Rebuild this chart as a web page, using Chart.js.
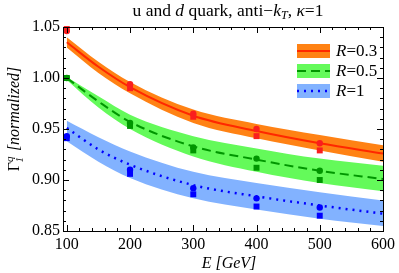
<!DOCTYPE html>
<html>
<head>
<meta charset="utf-8">
<script src="https://cdn.jsdelivr.net/npm/chart.js@4"></script>
<style>
  html, body { margin: 0; padding: 0; background: #fff; }
  #wrap { width: 399px; height: 273px; }
</style>
</head>
<body>
<div id="wrap"><canvas id="chart" width="399" height="273"></canvas></div>
<script>
// curves
const energies = [100, 150, 200, 300, 400, 500, 600];
const r03Mid  = [1.035, 1.011, 0.991, 0.963, 0.948, 0.936, 0.926];
const r03Low  = [1.030, 1.005, 0.985, 0.956, 0.941, 0.929, 0.918];
const r03High = [1.040, 1.016, 0.996, 0.969, 0.955, 0.944, 0.934];
const r05Mid  = [1.000, 0.977, 0.957, 0.933, 0.920, 0.909, 0.901];
const r05Low  = [0.998, 0.971, 0.950, 0.923, 0.908, 0.897, 0.889];
const r05High = [1.001, 0.982, 0.964, 0.943, 0.931, 0.921, 0.914];
const r1Mid   = [0.951, 0.930, 0.915, 0.895, 0.884, 0.875, 0.867];
const r1Low   = [0.938, 0.918, 0.902, 0.882, 0.871, 0.862, 0.855];
const r1High  = [0.958, 0.942, 0.928, 0.908, 0.897, 0.888, 0.880];

// points
const pointEnergies = [100, 200, 300, 400, 500];
const r03Circles = [1.046, 0.994, 0.965, 0.950, 0.936];
const r03Squares = [1.048, 0.990, 0.962, 0.943, 0.929];
const r05Circles = [1.000, 0.956, 0.932, 0.921, 0.909];
const r05Squares = [1.000, 0.953, 0.929, 0.912, 0.900];
const r1Circles  = [0.943, 0.910, 0.892, 0.882, 0.873];
const r1Squares  = [0.941, 0.906, 0.886, 0.874, 0.865];

const xTicks = [100, 200, 300, 400, 500, 600];
const yTicks = [0.85, 0.90, 0.95, 1.00, 1.05];
const legendLabels = ["0.3", "0.5", "1"];

const SERIF = "'Liberation Serif', 'DejaVu Serif', serif";
Chart.defaults.font.family = SERIF;
Chart.defaults.font.size = 16;
Chart.defaults.color = "#000";

const pts = (xs, ys) => xs.map((x, i) => ({ x: x, y: ys[i] }));

// bands go under everything (higher order = drawn first)
function band(low, high, color) {
    return [
        { data: pts(energies, low), order: 3, borderWidth: 0, pointRadius: 0, fill: false, cubicInterpolationMode: "monotone" },
        { data: pts(energies, high), order: 3, borderWidth: 0, pointRadius: 0, fill: "-1", backgroundColor: color, cubicInterpolationMode: "monotone" }
    ];
}

function curve(mid, color, dash, width) {
    return { data: pts(energies, mid), order: 2, borderColor: color, borderWidth: width, borderDash: dash,
             borderCapStyle: "butt", pointRadius: 0, fill: false, cubicInterpolationMode: "monotone" };
}

function marks(ys, color, style, r) {
    return { data: pts(pointEnergies, ys), order: 1, showLine: false, pointStyle: style, pointRadius: r,
             pointBackgroundColor: color, pointBorderColor: color, pointBorderWidth: 0, clip: 6 };
}

const series = [
    { fill: "rgb(255,130,20)", line: "rgb(255,40,0)", dash: [], width: 2, pts: "rgb(250,30,30)" },
    { fill: "rgb(100,250,90)", line: "rgb(0,150,0)", dash: [9, 5], width: 2, pts: "rgb(0,150,0)" },
    { fill: "rgb(130,178,255)", line: "rgb(0,0,255)", dash: [2, 5], width: 2.5, pts: "rgb(0,0,255)" }
];

// runs of text with their own fonts
function richText(ctx, runs, cx, cy, rotate) {
    ctx.save();
    ctx.translate(cx, cy);
    if (rotate) ctx.rotate(-Math.PI / 2);
    let total = 0;
    runs.forEach(r => { ctx.font = r.font; r.w = ctx.measureText(r.t).width; total += r.w + (r.gap || 0); });
    let x = -total / 2;
    ctx.textBaseline = "alphabetic";
    ctx.textAlign = "left";
    ctx.fillStyle = "#000";
    runs.forEach(r => { ctx.font = r.font; ctx.fillText(r.t, x + (r.dx || 0), r.dy || 0); x += r.w + (r.gap || 0); });
    ctx.restore();
}

const framePlugin = {
    id: "frame",
    afterDraw(chart) {
        const ctx = chart.ctx, a = chart.chartArea;
        const xs = chart.scales.x, ys = chart.scales.y;
        ctx.save();
        ctx.strokeStyle = "#000";
        ctx.lineWidth = 1;
        ctx.strokeRect(Math.round(a.left) + 0.5, Math.round(a.top) + 0.5, Math.round(a.right - a.left), Math.round(a.bottom - a.top));
        ctx.beginPath();
        for (let v = 100; v <= 600; v += 20) {
            const p = Math.round(xs.getPixelForValue(v)) + 0.5;
            const len = v % 100 === 0 ? 6 : 3;
            ctx.moveTo(p, a.bottom); ctx.lineTo(p, a.bottom - len);
            ctx.moveTo(p, a.top); ctx.lineTo(p, a.top + len);
        }
        for (let k = 85; k <= 105; k += 1) {
            const p = Math.round(ys.getPixelForValue(k / 100)) + 0.5;
            const len = k % 5 === 0 ? 6 : 3;
            ctx.moveTo(a.left, p); ctx.lineTo(a.left + len, p);
            ctx.moveTo(a.right, p); ctx.lineTo(a.right - len, p);
        }
        ctx.stroke();

        // legend
        const rows = [51, 71, 91];
        rows.forEach((yc, i) => {
            const s = series[i];
            ctx.fillStyle = s.fill;
            ctx.fillRect(297, yc - 7, 33, 14);
            ctx.strokeStyle = s.line;
            ctx.lineWidth = s.width;
            ctx.setLineDash(s.dash);
            ctx.beginPath();
            ctx.moveTo(297, yc); ctx.lineTo(330, yc);
            ctx.stroke();
            ctx.setLineDash([]);
            ctx.fillStyle = "#000";
            ctx.textBaseline = "middle";
            ctx.font = "italic 17px " + SERIF;
            ctx.fillText("R", 336, yc + 1);
            const w = ctx.measureText("R").width;
            ctx.font = "17px " + SERIF;
            ctx.fillText("=" + legendLabels[i], 336 + w, yc + 1);
        });
        ctx.restore();

        // title
        const N = "17.5px " + SERIF, I = "italic 17.5px " + SERIF, S = "italic 12px " + SERIF;
        richText(ctx, [
            { t: "u and ", font: N }, { t: "d", font: I }, { t: " quark, anti\u2212", font: N },
            { t: "k", font: I }, { t: "T", font: S, dy: 3 }, { t: ", ", font: N },
            { t: "\u03BA", font: I }, { t: "=1", font: N }
        ], 228, 16, false);
        // axis titles
        const N2 = "16px " + SERIF, I2 = "italic 16px " + SERIF, S2 = "italic 11px " + SERIF;
        richText(ctx, [{ t: "E [GeV]", font: I2 }], 229, 268, false);
        richText(ctx, [
            { t: "\u0393", font: N2 }, { t: "q", font: S2, dy: -6 },
            { t: "1", font: S2, dy: 4, dx: -6, gap: -4 }, { t: " [normalized]", font: I2 }
        ], 19, 119, true);
    }
};

const datasets = [];
datasets.push(...band(r03Low, r03High, series[0].fill));
datasets.push(...band(r05Low, r05High, series[1].fill));
datasets.push(...band(r1Low, r1High, series[2].fill));
datasets.push(curve(r03Mid, series[0].line, series[0].dash, series[0].width));
datasets.push(curve(r05Mid, series[1].line, series[1].dash, series[1].width));
datasets.push(curve(r1Mid, series[2].line, series[2].dash, series[2].width));
datasets.push(marks(r03Squares, series[0].pts, "rect", 4.2));
datasets.push(marks(r03Circles, series[0].pts, "circle", 3.2));
datasets.push(marks(r05Circles, series[1].pts, "circle", 3.2));
datasets.push(marks(r05Squares, series[1].pts, "rect", 4.2));
datasets.push(marks(r1Circles, series[2].pts, "circle", 3.2));
datasets.push(marks(r1Squares, series[2].pts, "rect", 4.2));

new Chart(document.getElementById("chart"), {
    type: "line",
    data: { datasets: datasets },
    options: {
        responsive: false,
        animation: false,
        events: [],
        layout: { padding: { top: 27, right: 12, left: 0, bottom: 0 } },
        plugins: { legend: { display: false }, tooltip: { enabled: false } },
        scales: {
            x: {
                type: "linear", min: 94, max: 600,
                grid: { display: false, drawTicks: false },
                border: { display: false },
                afterBuildTicks: s => { s.ticks = xTicks.map(v => ({ value: v })); },
                afterFit: s => { s.height = 42; },
                ticks: { padding: 4, maxRotation: 0, font: { size: 16 }, callback: v => String(v) }
            },
            y: {
                type: "linear", min: 0.85, max: 1.05,
                grid: { display: false, drawTicks: false },
                border: { display: false },
                afterBuildTicks: s => { s.ticks = yTicks.map(v => ({ value: v })); },
                afterFit: s => { s.width = 63; },
                ticks: { padding: 3, font: { size: 16 }, callback: v => Number(v).toFixed(2) }
            }
        }
    },
    plugins: [framePlugin]
});
</script>
</body>
</html>
